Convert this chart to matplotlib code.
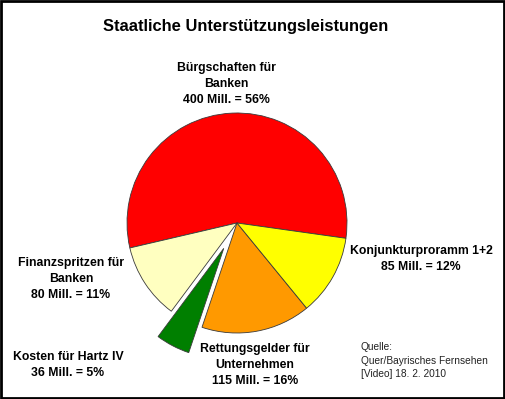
import matplotlib.pyplot as plt

plt.rcParams['font.family'] = ['Liberation Sans', 'DejaVu Sans']

# data (Mill. EUR), counter-clockwise order starting at the right edge
categories = ['Bürgschaften für\nBanken', 'Finanzspritzen für\nBanken',
              'Kosten für Hartz IV', 'Rettungsgelder für\nUnternehmen',
              'Konjunkturproramm 1+2']
amounts = [400, 80, 36, 115, 85]
percents = [56, 11, 5, 16, 12]
colors = ['#FF0000', '#FFFFC0', '#007F00', '#FF9900', '#FFFF00']

W, H = 506, 399
R = 110
explode = [0, 0, 0.26 * R, 0, 0]

fig = plt.figure(figsize=(W / 100, H / 100), dpi=100)
ax = fig.add_axes([0, 0, 1, 1])

ax.pie(amounts, colors=colors, explode=explode, startangle=-8,
       center=(237, H - 223), radius=R, frame=True,
       wedgeprops=dict(edgecolor='#3a3a3a', linewidth=0.6))
ax.set_xlim(0, W)
ax.set_ylim(0, H)
ax.axis('off')

# label positions in pixels (x center, top of text block)
label_pos = [(226, 62), (71, 257), (68, 351), (255, 343), (421, 245)]
for name, amt, pct, (x, y) in zip(categories, amounts, percents, label_pos):
    ax.text(x, H - y, f"{name}\n{amt} Mill. = {pct}%", ha='center', va='top',
            fontsize=8.8, fontweight='bold', linespacing=1.42)

ax.text(246, H - 26, 'Staatliche Unterstützungsleistungen', ha='center',
        va='center', fontsize=11.9, fontweight='bold')

ax.text(361, H - 342, 'Quelle:\nQuer/Bayrisches Fernsehen\n[Video] 18. 2. 2010',
        ha='left', va='top', fontsize=7.3, linespacing=1.45, color='#222222')

# outer frame
fig.patches.append(plt.Rectangle((0.002, 0.003), 0.995, 0.994, transform=fig.transFigure,
                                 fill=False, edgecolor='black', linewidth=2))

fig.savefig('out.png', dpi=100)
